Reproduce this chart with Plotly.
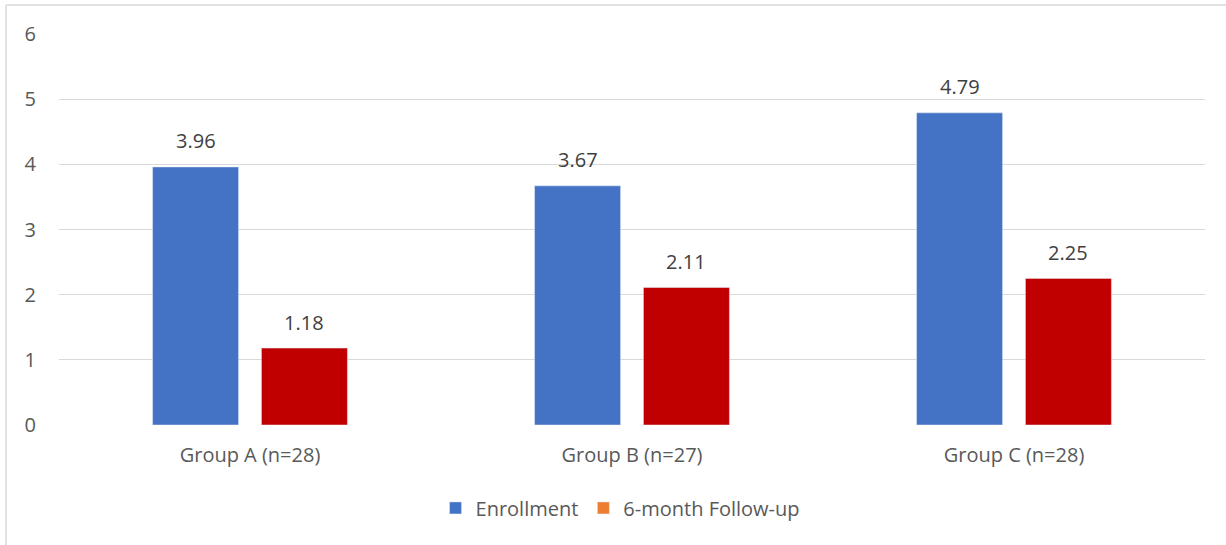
import plotly.graph_objects as go

# data
categories = ["Group A (n=28)", "Group B (n=27)", "Group C (n=28)"]
enrollment = [3.96, 3.67, 4.79]
follow_up = [1.18, 2.11, 2.25]
series_names = ["Enrollment", "6-month Follow-up"]
y_ticks = [0, 1, 2, 3, 4, 5, 6]

BLUE = "#4472C4"
RED = "#C00000"
ORANGE = "#ED7D31"
TXT = "#595959"
GRID = "#D9D9D9"
FONT = "'Open Sans', sans-serif"
FS = 20

W, H = 1226, 545
M = dict(l=59, r=21, t=34, b=120)
BARGAP = 0.43

fig = go.Figure()
fig.add_trace(go.Bar(x=categories, y=enrollment, name=series_names[0],
                     marker_color=BLUE, offsetgroup="a"))
fig.add_trace(go.Bar(x=categories, y=follow_up, name=series_names[1],
                     marker_color=RED, offsetgroup="b", showlegend=False))
# legend swatch is orange in the original, bars are red
fig.add_trace(go.Bar(x=[categories[0]], y=[None], name=series_names[1],
                     marker_color=ORANGE, offsetgroup="b"))

# value labels sit well above the bar tops
slot = (1 - BARGAP) / 2
for vals, off in [(enrollment, -slot / 2), (follow_up, slot / 2)]:
    for i, v in enumerate(vals):
        fig.add_annotation(x=i + off, y=v, text=f"{v:.2f}", showarrow=False,
                           yshift=26, font=dict(size=FS, color="#404040", family=FONT))

# outer chart border (left and top only visible)
pw = W - M["l"] - M["r"]
ph = H - M["t"] - M["b"]
x_left = (6 - M["l"]) / pw
y_top = (H - M["b"] - 5) / ph
fig.add_shape(type="line", xref="paper", yref="paper", x0=x_left, x1=x_left,
              y0=-0.4, y1=y_top, line=dict(color=GRID, width=1.5))
fig.add_shape(type="line", xref="paper", yref="paper", x0=x_left, x1=1.1,
              y0=y_top, y1=y_top, line=dict(color=GRID, width=1.5))

fig.update_layout(
    width=W, height=H, margin=M,
    barmode="group", bargap=BARGAP, bargroupgap=0.21,
    paper_bgcolor="white", plot_bgcolor="white",
    font=dict(family=FONT, size=FS, color=TXT),
    xaxis=dict(showgrid=False, showline=False, ticks="", automargin=False,
               ticklabelstandoff=16, tickfont=dict(size=FS, color=TXT)),
    yaxis=dict(range=[0, 6], tickvals=y_ticks, showgrid=True, gridcolor=GRID, gridwidth=1,
               zeroline=False, showline=False, ticks="", ticklabelstandoff=22,
               automargin=False, tickfont=dict(size=FS, color=TXT)),
    showlegend=True,
    legend=dict(orientation="h", x=0.49, xanchor="center", y=-0.212, yanchor="middle",
                font=dict(size=FS, color=TXT), traceorder="normal", itemwidth=30),
)

# page body margin would push the figure 8px off
fig.write_html("out.html", config={"displayModeBar": False},
               post_script="document.body.style.margin='0';")
